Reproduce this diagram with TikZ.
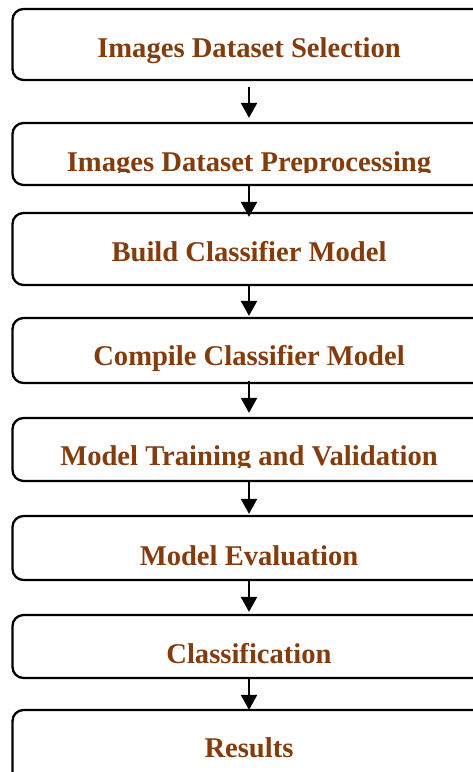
\documentclass[tikz,border=0pt]{standalone}
\usepackage{fontspec}
\setmainfont{Liberation Serif}
\usetikzlibrary{arrows.meta}
\definecolor{stepbrown}{HTML}{843C0C}
\tikzset{
  stagebox/.style={draw=black, line width=2.3pt, rounded corners=11pt,
    minimum width=473pt, inner sep=0pt, fill=white},
  stagetext/.style={anchor=base, text=stepbrown, inner sep=0pt,
    font=\bfseries\fontsize{28.6}{32}\selectfont},
  flow/.style={draw=black, line width=2.4pt,
    -{Triangle[width=16pt,length=15pt]}}
}
\begin{document}
\begin{tikzpicture}[x=1pt,y=-1pt]
\useasboundingbox (0,0) rectangle (473,772);
\clip (0,0) rectangle (473,772);
% stage boxes (right edges run past the page)
\node[stagebox, minimum height=71pt] (b1) at (249,44.5) {};
\node[stagebox, minimum height=62pt] (b2) at (249,154) {};
\node[stagebox, minimum height=72pt] (b3) at (249,249) {};
\node[stagebox, minimum height=65pt] (b4) at (249,350.5) {};
\node[stagebox, minimum height=63pt] (b5) at (249,449.5) {};
\node[stagebox, minimum height=64pt] (b6) at (249,548) {};
\node[stagebox, minimum height=63pt] (b7) at (249,646.5) {};
\node[stagebox, minimum height=80pt] (b8) at (249,750) {};
% labels
\node[stagetext] (t1) at (249,57.3) {Images Dataset Selection};
\begin{scope}
  \clip (14,124) rectangle (484,172.5);
  \node[stagetext] (t2) at (249,171) {Images Dataset Preprocessing};
\end{scope}
\node[stagetext] (t3) at (249,261) {Build Classifier Model};
\node[stagetext] (t4) at (249,365.7) {Compile Classifier Model};
\begin{scope}
  \clip (14,419) rectangle (484,467);
  \node[stagetext] (t5) at (249,465.7) {Model Training and Validation};
\end{scope}
\node[stagetext] (t6) at (249,565) {Model Evaluation};
\node[stagetext] (t7) at (249,663) {Classification};
\node[stagetext] (t8) at (249,757) {Results};
% connectors
\draw[flow, shorten <=6pt, shorten >=4pt] (b1) -- (b2);
\draw[flow, shorten >=-5pt] (b2) -- (b3);
\draw[flow, shorten >=1pt] (b3) -- (b4);
\draw[flow, shorten <=-3pt, shorten >=4pt] (b4) -- (b5);
\draw[flow, shorten >=1pt] (b5) -- (b6);
\draw[flow, shorten >=2pt] (b6) -- (b7);
\draw[flow, shorten >=-1pt] (b7) -- (b8);
\end{tikzpicture}
\end{document}
